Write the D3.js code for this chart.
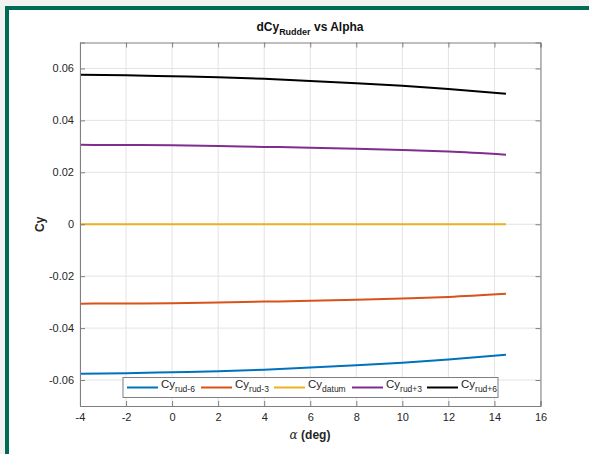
<!DOCTYPE html>
<html>
<head>
<meta charset="utf-8">
<script src="https://cdn.jsdelivr.net/npm/d3@7/dist/d3.min.js"></script>
<style>
  body { margin: 0; background: #f2f2f2; }
  svg { display: block; font-family: "Liberation Sans", Arial, sans-serif; }
</style>
</head>
<body>
<svg id="chart" width="589" height="454"></svg>
<script>
// angle of attack (deg)
const alpha = [-4, -2, 0, 2, 4, 6, 8, 10, 12, 14.5];
const cyRud6n = [-0.0576, -0.0574, -0.0570, -0.0566, -0.0560, -0.0552, -0.0543, -0.0533, -0.0521, -0.0503];
const cyRud3n = [-0.0306, -0.0305, -0.0304, -0.0301, -0.0298, -0.0295, -0.0291, -0.0286, -0.0280, -0.0268];
const cyDatum = [0, 0, 0, 0, 0, 0, 0, 0, 0, 0];
const cyRud3p = [0.0306, 0.0305, 0.0304, 0.0301, 0.0298, 0.0295, 0.0291, 0.0286, 0.0280, 0.0268];
const cyRud6p = [0.0576, 0.0574, 0.0570, 0.0566, 0.0560, 0.0552, 0.0543, 0.0533, 0.0521, 0.0503];
const xTicks = [-4, -2, 0, 2, 4, 6, 8, 10, 12, 14, 16];
const yTicks = [-0.06, -0.04, -0.02, 0, 0.02, 0.04, 0.06];

const series = [
  { sub: "rud-6", vals: cyRud6n, color: "#0072BD" },
  { sub: "rud-3", vals: cyRud3n, color: "#D95319" },
  { sub: "datum", vals: cyDatum, color: "#EDB120" },
  { sub: "rud+3", vals: cyRud3p, color: "#7E2F8E" },
  { sub: "rud+6", vals: cyRud6p, color: "#000000" }
];

const svg = d3.select("#chart");
// figure frame
svg.append("rect").attr("x", 5).attr("y", 6).attr("width", 584).attr("height", 448).attr("fill", "#006b54");
svg.append("rect").attr("x", 9).attr("y", 10).attr("width", 580).attr("height", 444).attr("fill", "#fff");

const L = 80, R = 540.5, T = 42.5, B = 406;
const x = d3.scaleLinear().domain([-4, 16]).range([L, R]);
const y = d3.scaleLinear().domain([-0.07, 0.07]).range([B, T]);

const g = svg.append("g");
g.append("rect").attr("x", L).attr("y", T).attr("width", R - L).attr("height", B - T).attr("fill", "#fff");

// grid
g.selectAll(".gx").data(xTicks).enter().append("line")
  .attr("x1", d => x(d)).attr("x2", d => x(d)).attr("y1", T).attr("y2", B)
  .attr("stroke", "#e3e3e3").attr("stroke-width", 1);
g.selectAll(".gy").data(yTicks).enter().append("line")
  .attr("y1", d => y(d)).attr("y2", d => y(d)).attr("x1", L).attr("x2", R)
  .attr("stroke", "#e3e3e3").attr("stroke-width", 1);

// lines
const line = d3.line().x((d, i) => x(alpha[i])).y(d => y(d)).curve(d3.curveMonotoneX);
series.forEach(s => {
  g.append("path").datum(s.vals).attr("d", line)
    .attr("fill", "none").attr("stroke", s.color).attr("stroke-width", 2);
});

// plain hyphen minus like the original
const fmtX = d => String(d);
const fmtY = d => d === 0 ? "0" : (d < 0 ? "-" : "") + Math.abs(d).toFixed(2);

// axes (ticks inside)
const axColor = "#7f7f7f";
const axB = g.append("g").attr("transform", `translate(0,${B})`)
  .call(d3.axisBottom(x).tickValues(xTicks).tickSize(-5).tickPadding(7).tickFormat(fmtX));
const axT = g.append("g").attr("transform", `translate(0,${T})`)
  .call(d3.axisTop(x).tickValues(xTicks).tickSize(-5).tickFormat(""));
const axL = g.append("g").attr("transform", `translate(${L},0)`)
  .call(d3.axisLeft(y).tickValues(yTicks).tickSize(-5).tickPadding(6).tickFormat(fmtY));
const axR = g.append("g").attr("transform", `translate(${R},0)`)
  .call(d3.axisRight(y).tickValues(yTicks).tickSize(-5).tickFormat(""));
[axB, axT, axL, axR].forEach(a => {
  a.select(".domain").attr("stroke", axColor);
  a.selectAll(".tick line").attr("stroke", axColor);
  a.selectAll("text").attr("fill", "#262626").attr("font-size", 11);
});

// title
const title = svg.append("text").attr("x", 310).attr("y", 31).attr("text-anchor", "middle")
  .attr("font-size", 12).attr("font-weight", "bold").attr("fill", "#111");
title.append("tspan").text("dCy");
title.append("tspan").attr("font-size", 9).attr("dy", 4).text("Rudder");
title.append("tspan").attr("dy", -4).text(" vs Alpha");

// x label
const xl = svg.append("text").attr("x", 310).attr("y", 439).attr("text-anchor", "middle")
  .attr("font-size", 12).attr("fill", "#262626");
xl.append("tspan").attr("font-family", "DejaVu Serif, serif").attr("font-style", "italic").text("α");
xl.append("tspan").attr("font-weight", "bold").text(" (deg)");

// y label
svg.append("text").attr("transform", `translate(44,${y(0)}) rotate(-90)`)
  .attr("text-anchor", "middle").attr("font-size", 12).attr("font-weight", "bold")
  .attr("fill", "#262626").text("Cy");

// legend
const lg = svg.append("g");
lg.append("rect").attr("x", 123).attr("y", 377.5).attr("width", 375).attr("height", 20)
  .attr("fill", "#fff").attr("stroke", "#7f7f7f").attr("stroke-width", 1);
const itemX = [127, 201, 274, 352, 427];
series.forEach((s, i) => {
  const ix = itemX[i];
  lg.append("line").attr("x1", ix).attr("x2", ix + 31).attr("y1", 387.5).attr("y2", 387.5)
    .attr("stroke", s.color).attr("stroke-width", 2);
  const t = lg.append("text").attr("x", ix + 34).attr("y", 388).attr("font-size", 11.5).attr("fill", "#262626");
  t.append("tspan").text("Cy");
  t.append("tspan").attr("font-size", 8.5).attr("dy", 4).text(s.sub);
});
</script>
</body>
</html>
